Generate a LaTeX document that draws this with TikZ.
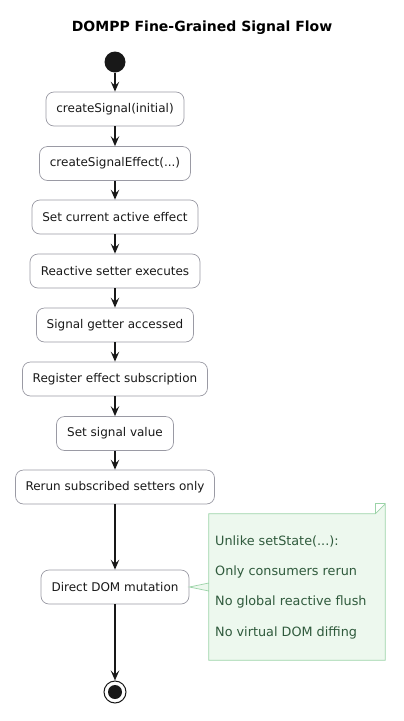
\documentclass[tikz,border=0pt]{standalone}
\usepackage{fontspec}
\setmainfont{DejaVu Sans}
\usetikzlibrary{arrows.meta}
\definecolor{boxline}{HTML}{9A9AA4}
\definecolor{arrowc}{HTML}{181818}
\definecolor{notefill}{HTML}{EDF8EE}
\definecolor{noteline}{HTML}{9BD3A8}
\definecolor{notetext}{HTML}{2F5A3C}
\begin{document}
\begin{tikzpicture}[x=1pt,y=-1pt,
  act/.style={draw=boxline,line width=0.7pt,fill=white,rounded corners=8pt,minimum height=34pt,inner sep=0pt,font=\fontsize{12}{14}\selectfont,text=black!90},
  flow/.style={draw=arrowc,line width=1.5pt,-{Stealth[length=10pt,width=8.5pt,inset=4pt]}},
  ntext/.style={anchor=base west,inner sep=0pt,text=notetext,font=\fontsize{12.8}{15}\selectfont}]
\useasboundingbox (0,0) rectangle (404,721);
\node[font=\bfseries\fontsize{14}{17}\selectfont] (title) at (202,28) {DOMPP Fine-Grained Signal Flow};
\node[circle,fill=arrowc,minimum size=21pt,inner sep=0pt] (start) at (115,62) {};
\node[act,minimum width=138pt] (a1) at (115,109) {createSignal(initial)};
\node[act,minimum width=151pt] (a2) at (115,163.5) {createSignalEffect(...)};
\node[act,minimum width=166pt] (a3) at (115,217) {Set current active effect};
\node[act,minimum width=170pt] (a4) at (115,271) {Reactive setter executes};
\node[act,minimum width=157pt] (a5) at (115,325) {Signal getter accessed};
\node[act,minimum width=185pt] (a6) at (115,379) {Register effect subscription};
\node[act,minimum width=117pt] (a7) at (115,433.5) {Set signal value};
\node[act,minimum width=199pt] (a8) at (115,487) {Rerun subscribed setters only};
\node[act,minimum width=148pt] (a9) at (115,587) {Direct DOM mutation};
\node[circle,draw=arrowc,line width=1pt,fill=white,minimum size=22pt,inner sep=0pt] (end) at (115,692) {};
\fill[arrowc] (end.center) circle (7pt);
\draw[flow] (start) -- (a1);
\draw[flow] (a1) -- (a2);
\draw[flow] (a2) -- (a3);
\draw[flow] (a3) -- (a4);
\draw[flow] (a4) -- (a5);
\draw[flow] (a5) -- (a6);
\draw[flow] (a6) -- (a7);
\draw[flow] (a7) -- (a8);
\draw[flow] (a8) -- (a9);
\draw[flow] (a9) -- (end);
% note
\node[minimum width=176pt,minimum height=146pt,inner sep=0pt] (note) at (297,587) {};
\draw[draw=noteline,fill=notefill,line width=0.7pt]
  (note.north west) -- ([xshift=-10pt]note.north east) -- ([yshift=10pt]note.north east)
  -- (note.south east) -- (note.south west) -- ([yshift=4pt]note.west) -- (a9.east) -- ([yshift=-4pt]note.west) -- cycle;
\draw[draw=noteline,line width=0.7pt] ([xshift=-10pt]note.north east) -- ([xshift=-10pt,yshift=10pt]note.north east) -- ([yshift=10pt]note.north east);
\node[ntext] (n1) at (215,545) {Unlike setState(...):};
\node[ntext] (n2) at (215,575) {Only consumers rerun};
\node[ntext] (n3) at (215,605) {No global reactive flush};
\node[ntext] (n4) at (215,636) {No virtual DOM diffing};
\end{tikzpicture}
\end{document}
